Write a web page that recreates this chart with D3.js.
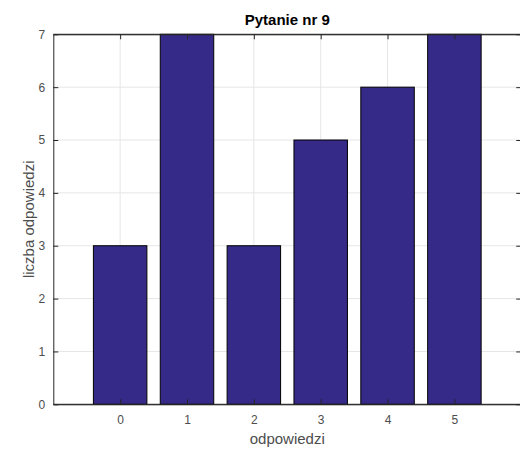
<!DOCTYPE html>
<html><head><meta charset="utf-8">
<script src="https://cdn.jsdelivr.net/npm/d3@7"></script>
<style>body{margin:0;background:#fff}svg{display:block}text{font-family:"Liberation Sans",Arial,sans-serif}</style>
</head><body>
<svg id="c" width="520" height="452"></svg>
<script>
const categories = [0, 1, 2, 3, 4, 5];
const values = [3, 7, 3, 5, 6, 7];
const yTicks = [0, 1, 2, 3, 4, 5, 6, 7];
const title = "Pytanie nr 9";
const xLabel = "odpowiedzi";
const yLabel = "liczba odpowiedzi";

const svg = d3.select("#c");
const L = 53.3, T = 34.3, B = 404.3;
const x = d3.scaleLinear().domain([-1, 6]).range([L, L + 7 * 66.85]);
const y = d3.scaleLinear().domain([0, 7]).range([B, T]);
const R = x(6);
const axisCol = "#262626", tickTxt = "#4d4d4d";
const fmt = d3.format("d");

// grid
const g = svg.append("g");
g.selectAll("line.gx").data(categories).enter().append("line")
  .attr("x1", d => x(d)).attr("x2", d => x(d)).attr("y1", T).attr("y2", B)
  .attr("stroke", "#e6e6e6").attr("stroke-width", 1);
g.selectAll("line.gy").data(yTicks).enter().append("line")
  .attr("x1", L).attr("x2", R).attr("y1", d => y(d)).attr("y2", d => y(d))
  .attr("stroke", "#e6e6e6").attr("stroke-width", 1);

// bars
svg.append("g").selectAll("rect").data(values).enter().append("rect")
  .attr("x", (d, i) => x(categories[i] - 0.4))
  .attr("width", (d, i) => x(categories[i] + 0.4) - x(categories[i] - 0.4))
  .attr("y", d => y(d)).attr("height", d => y(0) - y(d))
  .attr("fill", "#352a87").attr("stroke", "#000").attr("stroke-width", 1);

// axes
const xa = svg.append("g").attr("transform", `translate(0,${B})`)
  .call(d3.axisBottom(x).tickValues(categories).tickFormat(fmt).tickSizeInner(-5).tickSizeOuter(0).tickPadding(11));
const xt = svg.append("g").attr("transform", `translate(0,${T})`)
  .call(d3.axisTop(x).tickValues(categories).tickSizeInner(-5).tickSizeOuter(0).tickFormat(""));
const ya = svg.append("g").attr("transform", `translate(${L},0)`)
  .call(d3.axisLeft(y).tickValues(yTicks).tickFormat(fmt).tickSizeInner(-5).tickSizeOuter(0).tickPadding(8));
const yr = svg.append("g").attr("transform", `translate(${R},0)`)
  .call(d3.axisRight(y).tickValues(yTicks).tickSizeInner(-5).tickSizeOuter(0).tickFormat(""));
[xa, xt, ya, yr].forEach(a => {
  a.selectAll("path").attr("stroke", axisCol).attr("stroke-width", 1);
  a.selectAll("line").attr("stroke", axisCol);
  a.selectAll("text").attr("fill", tickTxt).style("font-size", "12px").style("font-family", '"Liberation Sans",Arial,sans-serif');
});
svg.append("line").attr("x1", L).attr("x2", R).attr("y1", B).attr("y2", B).attr("stroke", axisCol);
svg.append("line").attr("x1", L).attr("x2", R).attr("y1", T).attr("y2", T).attr("stroke", axisCol);

const cx = (L + R) / 2;
svg.append("text").attr("x", cx).attr("y", 25).attr("text-anchor", "middle")
  .style("font-size", "15px").style("font-weight", "bold").attr("fill", "#000").text(title);
svg.append("text").attr("x", cx).attr("y", 444).attr("text-anchor", "middle")
  .style("font-size", "15px").attr("fill", tickTxt).text(xLabel);
svg.append("text").attr("transform", `translate(34,${(T + B) / 2}) rotate(-90)`).attr("text-anchor", "middle")
  .style("font-size", "15px").attr("fill", tickTxt).text(yLabel);
</script>
</body></html>
